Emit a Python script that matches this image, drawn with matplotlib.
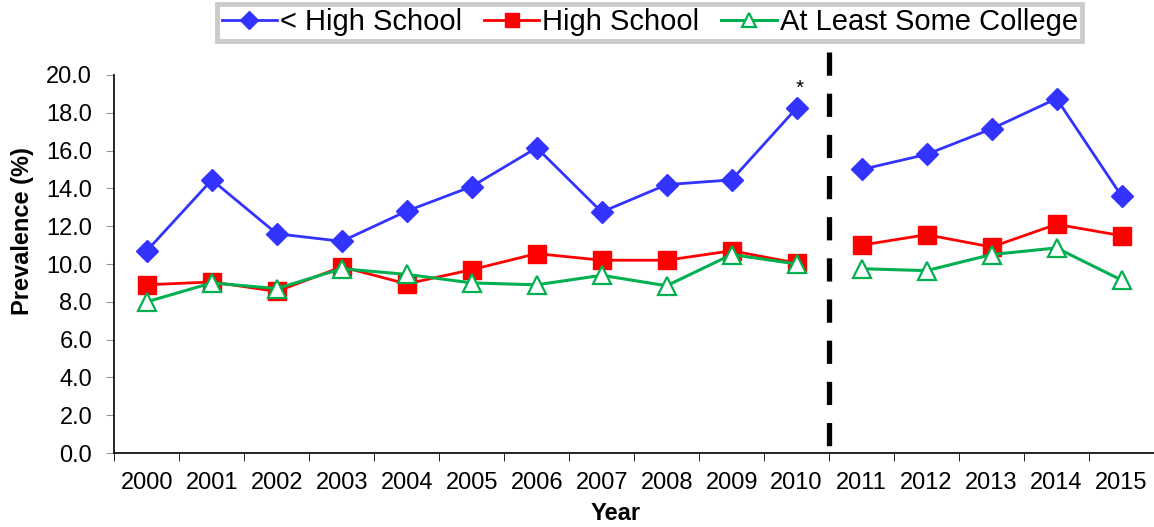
import matplotlib
matplotlib.use("Agg")
import matplotlib.pyplot as plt
import numpy as np

plt.rcParams['font.family'] = ['Liberation Sans', 'DejaVu Sans']

years = ['2000', '2001', '2002', '2003', '2004', '2005', '2006', '2007',
         '2008', '2009', '2010', '2011', '2012', '2013', '2014', '2015']
less_hs = [10.7, 14.45, 11.6, 11.2, 12.8, 14.1, 16.15, 12.75, 14.2, 14.45, 18.25,
           15.0, 15.8, 17.15, 18.75, 13.6]
high_school = [8.9, 9.05, 8.55, 9.85, 8.95, 9.7, 10.55, 10.2, 10.2, 10.7, 10.05,
               11.0, 11.55, 10.9, 12.1, 11.5]
some_college = [8.0, 9.0, 8.7, 9.75, 9.45, 9.0, 8.9, 9.4, 8.85, 10.5, 10.0,
                9.75, 9.65, 10.5, 10.85, 9.15]
series_names = ['< High School', 'High School', 'At Least Some College']
break_after = '2010'
y_ticks = [0, 2, 4, 6, 8, 10, 12, 14, 16, 18, 20]

fig = plt.figure(figsize=(11.54, 5.27), dpi=100)
ax = fig.add_axes([0.0991, 0.1404, 0.9009, 0.7173])

x = np.arange(len(years))
bi = years.index(break_after) + 1

styles = [
    dict(color='#3333FF', marker='D', markersize=11.5, markerfacecolor='#3333FF',
         markeredgecolor='#3333FF', lw=2),
    dict(color='#FF0000', marker='s', markersize=13, markerfacecolor='#FF0000',
         markeredgecolor='#FF0000', lw=2),
    dict(color='#00B050', marker='^', markersize=13, markerfacecolor='white',
         markeredgecolor='#00B050', markeredgewidth=1.6, lw=2.2),
]
handles = []
for vals, st, name in zip([less_hs, high_school, some_college], styles, series_names):
    v = np.array(vals)
    h, = ax.plot(x[:bi], v[:bi], label=name, **st)
    ax.plot(x[bi:], v[bi:], **st)
    handles.append(h)

# divider (drawn top-down so the first dash starts at the top)
ax.plot([bi - 0.5, bi - 0.5], [21.2, 0], color='black', lw=3.8,
        linestyle=(0, (4.4, 3.4)), clip_on=False, solid_capstyle='butt',
        dash_capstyle='butt')
ax.text(x[bi - 1] + 0.05, 19.3, '*', ha='center', va='center', fontsize=15)

ax.set_xlim(-0.5, len(years) - 0.5)
ax.set_ylim(0, 20)
ax.set_yticks(y_ticks)
ax.set_yticklabels([f'{t:.1f}' for t in y_ticks], fontsize=17)
ax.set_xticks(x)
ax.set_xticklabels(years, fontsize=17)
ax.tick_params(axis='x', which='major', length=0, pad=14)
ax.set_xticks(np.arange(-0.5, len(years)), minor=True)
ax.tick_params(axis='x', which='minor', length=6, direction='out', color='black')
ax.tick_params(axis='y', length=6, direction='out', color='#999999', pad=10)
for s in ['top', 'right']:
    ax.spines[s].set_visible(False)
ax.spines['left'].set_linewidth(1.2)
ax.spines['bottom'].set_linewidth(1.2)

ax.set_xlabel('Year', fontsize=17, fontweight='bold')
ax.xaxis.label.set_va('center')
ax.xaxis.set_label_coords(0.482, -0.159)
ax.set_ylabel('Prevalence (%)', fontsize=17, fontweight='bold')
ax.yaxis.label.set_va('center')
ax.yaxis.set_label_coords(-0.0885, 0.587)

leg = fig.legend(handles=handles, loc='center', bbox_to_anchor=(0.563, 0.958),
                 ncol=3, fontsize=21, frameon=True, fancybox=False,
                 handlelength=1.9, handletextpad=0.1, columnspacing=0.75,
                 borderpad=0.15, markerscale=0.8)
leg.get_frame().set_edgecolor('#BFBFBF')
leg.get_frame().set_linewidth(3.5)

fig.savefig('out.png', dpi=100)
